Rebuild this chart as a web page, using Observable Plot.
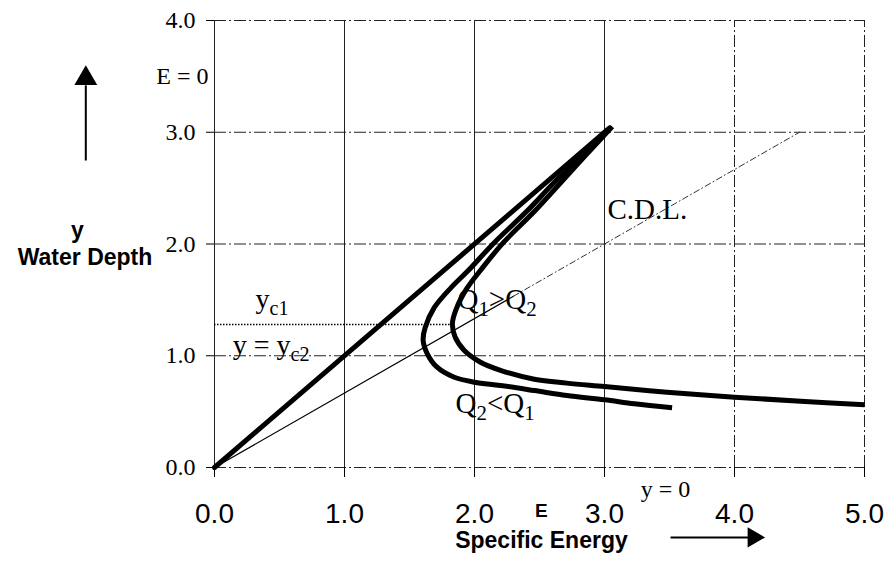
<!DOCTYPE html>
<html>
<head>
<meta charset="utf-8">
<script src="https://cdn.jsdelivr.net/npm/d3@7"></script>
<script src="https://cdn.jsdelivr.net/npm/@observablehq/plot@0.6"></script>
<style>
  html, body { margin: 0; padding: 0; background: #fff; }
  #chart svg { display: block; }
</style>
</head>
<body>
<div id="chart"></div>
<script>
// ---- data ----
const eTicks = [0, 1, 2, 3, 4, 5];
const yTicks = [0, 1, 2, 3, 4];

// Q1 (larger discharge) specific-energy curve: E and y
const q1E = [3.06, 2.86, 2.68, 2.46, 2.22, 2.05, 1.94, 1.86, 1.83, 1.85, 1.92, 2.05, 2.20, 2.46, 2.71, 3.00, 3.48, 4.00, 4.51, 5.00];
const q1Y = [3.05, 2.80, 2.57, 2.29, 2.01, 1.77, 1.60, 1.42, 1.29, 1.17, 1.05, 0.94, 0.87, 0.79, 0.755, 0.725, 0.674, 0.629, 0.593, 0.561];

// Q2 (smaller discharge) curve
const q2E = [3.05, 2.84, 2.63, 2.40, 2.15, 1.95, 1.82, 1.69, 1.62, 1.605, 1.636, 1.71, 1.84, 2.00, 2.20, 2.46, 2.71, 3.00, 3.23, 3.52];
const q2Y = [3.05, 2.80, 2.57, 2.29, 2.01, 1.76, 1.61, 1.43, 1.25, 1.136, 1.02, 0.90, 0.81, 0.763, 0.734, 0.689, 0.644, 0.606, 0.570, 0.534];

// E = y asymptote
const asymE = [0, 3.03];
const asymY = [0, 3.03];

// critical depth line (C.D.L.), y = 2/3 E
const cdlSolidE = [0, 2.3];
const cdlSolidY = [0, 1.533];
const cdlDashE = [2.3, 4.5];
const cdlDashY = [1.533, 3.0];

const yc1 = 1.28;
const yc1End = 1.83;
const yc2 = 1.0;

const toPts = (xs, ys) => xs.map((x, i) => ({x, y: ys[i]}));

// annotations (label, E, y)
const serifLabels = [
  {t: "E = 0", x: -0.046, y: 3.436, a: "end", s: 24},
  {t: "y_c1", x: 0.315, y: 1.43, a: "start", s: 28},
  {t: "y = y_c2", x: 0.14, y: 1.015, a: "start", s: 28},
  {t: "C.D.L.", x: 3.023, y: 2.228, a: "start", s: 29},
  {t: "Q_1>Q_2", x: 1.869, y: 1.42, a: "start", s: 29},
  {t: "Q_2<Q_1", x: 1.854, y: 0.49, a: "start", s: 29},
  {t: "y = 0", x: 3.469, y: -0.268, a: "middle", s: 24}
];
const sansLabels = [
  {t: "E", x: 2.515, y: -0.447, s: 19},
  {t: "Specific Energy", x: 2.515, y: -0.716, s: 23},
  {t: "y", x: -1.054, y: 2.058, s: 23},
  {t: "Water Depth", x: -0.996, y: 1.808, s: 23}
];

const dashDot = "12,3,2,3";

const marks = [
  Plot.ruleX([0, 1, 2, 3], {y1: 0, y2: 4, stroke: "#222", strokeWidth: 1}),
  Plot.ruleX([4, 5], {y1: 0, y2: 4, stroke: "#222", strokeWidth: 1, strokeDasharray: dashDot}),
  Plot.ruleY(yTicks, {x1: 0, x2: 5, stroke: "#222", strokeWidth: 1, strokeDasharray: dashDot}),
  Plot.ruleY([yc1], {x1: 0, x2: yc1End, stroke: "#000", strokeWidth: 1.6, strokeDasharray: "1.5,1.5"}),
  Plot.line(toPts(cdlSolidE, cdlSolidY), {x: "x", y: "y", stroke: "#000", strokeWidth: 1.2}),
  Plot.line(toPts(cdlDashE, cdlDashY), {x: "x", y: "y", stroke: "#333", strokeWidth: 1, strokeDasharray: "6,3,1,3"}),
  Plot.line(toPts(asymE, asymY), {x: "x", y: "y", stroke: "#000", strokeWidth: 5}),
  Plot.line(toPts(q2E, q2Y), {x: "x", y: "y", stroke: "#000", strokeWidth: 5, curve: "catmull-rom", strokeLinecap: "butt"}),
  Plot.line(toPts(q1E, q1Y), {x: "x", y: "y", stroke: "#000", strokeWidth: 5, curve: "catmull-rom", strokeLinecap: "butt"}),
  Plot.axisY(yTicks, {tickFormat: d3.format(".1f"), tickSize: 8, tickPadding: 11, fontSize: 24, fontFamily: "Liberation Serif", label: null, stroke: "#000"}),
  Plot.axisX(eTicks, {tickFormat: d3.format(".1f"), tickSize: 10, tickPadding: 26, fontSize: 28, fontFamily: "Liberation Sans", label: null, stroke: "#000"}),
  // arrows
  Plot.link([{x: -0.99, y1: 2.747, y2: 3.42}], {x1: "x", x2: "x", y1: "y1", y2: "y2", stroke: "#000", strokeWidth: 2}),
  Plot.dot([{x: -0.99, y: 3.481}], {x: "x", y: "y", symbol: "triangle", r: 8.5, fill: "#000", stroke: null}),
  Plot.link([{y: -0.626, x1: 3.508, x2: 4.12}], {x1: "x1", x2: "x2", y1: "y", y2: "y", stroke: "#000", strokeWidth: 2}),
  Plot.dot([{x: 4.146, y: -0.626}], {x: "x", y: "y", symbol: "triangle", r: 7.5, rotate: 90, fill: "#000", stroke: null})
];

for (const d of serifLabels) {
  marks.push(Plot.text([d], {x: "x", y: "y", text: "t", textAnchor: d.a, lineAnchor: "bottom", fontSize: d.s, fontFamily: "Liberation Serif", fill: "#000"}));
}
for (const d of sansLabels) {
  marks.push(Plot.text([d], {x: "x", y: "y", text: "t", textAnchor: "middle", lineAnchor: "bottom", fontSize: d.s, fontWeight: "bold", fontFamily: "Liberation Sans", fill: "#000"}));
}

const chart = Plot.plot({
  width: 889,
  height: 563,
  marginLeft: 214,
  marginRight: 25,
  marginTop: 20,
  marginBottom: 96,
  x: {domain: [0, 5], axis: null},
  y: {domain: [0, 4], axis: null},
  style: {background: "#fff", overflow: "visible", color: "#000"},
  marks
});

// subscripts: "_xx" becomes a subscript tspan
d3.select(chart).selectAll("text").each(function () {
  const t = this.textContent;
  if (!t.includes("_")) return;
  const parts = t.split(/_(\w+)/);
  this.textContent = "";
  let shifted = false;
  parts.forEach((p, i) => {
    if (!p) return;
    const ts = d3.select(this).append("tspan").text(p);
    if (i % 2) {
      ts.attr("font-size", "72%");
      if (!shifted) ts.attr("dy", 7);
      shifted = true;
    } else {
      if (shifted) ts.attr("dy", -7);
      shifted = false;
    }
  });
});

document.getElementById("chart").appendChild(chart);
</script>
</body>
</html>
